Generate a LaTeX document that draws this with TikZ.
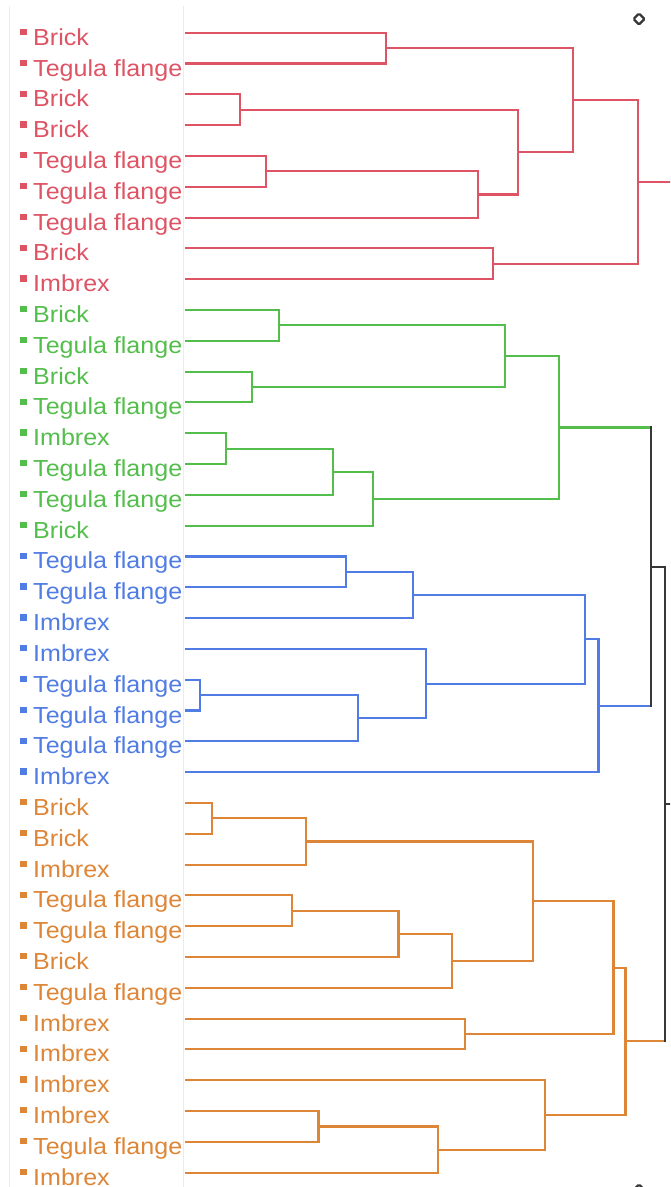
\documentclass[tikz,border=0pt]{standalone}
\usepackage{fontspec}
\usepackage{graphicx}
\setmainfont{Liberation Sans}
\usetikzlibrary{calc}
\definecolor{cred}{RGB}{222,84,100}
\definecolor{cgreen}{RGB}{84,190,76}
\definecolor{cblue}{RGB}{80,124,228}
\definecolor{corange}{RGB}{222,134,56}
\definecolor{cblack}{RGB}{55,55,55}
\definecolor{cpanel}{RGB}{236,236,236}
\newcommand\dmerge[5]{%
  \coordinate (tmpmid) at ($(#3)!0.5!(#4)$);
  \coordinate (#1) at (#2,0 |- tmpmid);
  \draw[#5] (#3) -| (#1) |- (#4);
}
\tikzset{
  link/.style={line width=2.1pt, line join=miter},
  redl/.style={link, draw=cred},
  greenl/.style={link, draw=cgreen},
  bluel/.style={link, draw=cblue},
  orangel/.style={link, draw=corange},
  blackl/.style={link, draw=cblack},
  leaflabel/.style={anchor=base west, inner sep=0pt, font=\fontsize{23.2}{28}\selectfont},
  marker/.style={draw=cblack, line width=2.2pt, rounded corners=1.2pt}
}
\begin{document}
\begin{tikzpicture}[x=1pt, y=-1pt]
\useasboundingbox (0,0) rectangle (670,1187);
\clip (0,0) rectangle (670,1187);
\fill[white] (0,0) rectangle (670,1187);
% label panel borders
\draw[cpanel, line width=1pt] (9.5,6) -- (9.5,1187);
\draw[cpanel, line width=1pt] (183.5,6) -- (183.5,1187);
% leaves
\foreach \lbl/\col [count=\i from 0] in {
  Brick/cred, Tegula flange/cred, Brick/cred, Brick/cred, Tegula flange/cred,
  Tegula flange/cred, Tegula flange/cred, Brick/cred, Imbrex/cred,
  Brick/cgreen, Tegula flange/cgreen, Brick/cgreen, Tegula flange/cgreen,
  Imbrex/cgreen, Tegula flange/cgreen, Tegula flange/cgreen, Brick/cgreen,
  Tegula flange/cblue, Tegula flange/cblue, Imbrex/cblue, Imbrex/cblue,
  Tegula flange/cblue, Tegula flange/cblue, Tegula flange/cblue, Imbrex/cblue,
  Brick/corange, Brick/corange, Imbrex/corange, Tegula flange/corange,
  Tegula flange/corange, Brick/corange, Tegula flange/corange, Imbrex/corange,
  Imbrex/corange, Imbrex/corange, Imbrex/corange, Tegula flange/corange,
  Imbrex/corange}{
  \coordinate (L\i) at (185, {32.7+30.81*\i});
  \fill[\col] (20,{32.7+30.81*\i-3.8}) rectangle ++(6.5,6.2);
  \node[leaflabel, text=\col] (T\i) at (33, {32.7+30.81*\i+12.5}) {\scalebox{1.08}[1]{\lbl}};
}
% red cluster
\dmerge{r1}{386}{L0}{L1}{redl}
\dmerge{r2}{240}{L2}{L3}{redl}
\dmerge{r3}{266}{L4}{L5}{redl}
\dmerge{r4}{478.3}{r3}{L6}{redl}
\dmerge{r5}{518.3}{r2}{r4}{redl}
\dmerge{r6}{572.7}{r1}{r5}{redl}
\dmerge{r7}{492.7}{L7}{L8}{redl}
\dmerge{r8}{638.3}{r6}{r7}{redl}
\coordinate (rout) at (672,0 |- r8);
\draw[redl] (r8) -- (rout);
% green cluster
\dmerge{g1}{278.8}{L9}{L10}{greenl}
\dmerge{g2}{252.2}{L11}{L12}{greenl}
\dmerge{g3}{505.3}{g1}{g2}{greenl}
\dmerge{g4}{225.7}{L13}{L14}{greenl}
\dmerge{g5}{332.6}{g4}{L15}{greenl}
\dmerge{g6}{372.8}{g5}{L16}{greenl}
\dmerge{g7}{558.8}{g3}{g6}{greenl}
% blue cluster
\dmerge{b1}{346.3}{L17}{L18}{bluel}
\dmerge{b2}{412.6}{b1}{L19}{bluel}
\dmerge{b3}{199.7}{L21}{L22}{bluel}
\dmerge{b4}{358.3}{b3}{L23}{bluel}
\dmerge{b5}{426.3}{L20}{b4}{bluel}
\dmerge{b6}{584.9}{b2}{b5}{bluel}
\dmerge{b7}{598.5}{b6}{L24}{bluel}
% orange cluster
\dmerge{o1}{211.6}{L25}{L26}{orangel}
\dmerge{o2}{306.1}{o1}{L27}{orangel}
\dmerge{o3}{292.4}{L28}{L29}{orangel}
\dmerge{o4}{398.5}{o3}{L30}{orangel}
\dmerge{o5}{452.3}{o4}{L31}{orangel}
\dmerge{o6}{532.7}{o2}{o5}{orangel}
\dmerge{o7}{464.7}{L32}{L33}{orangel}
\dmerge{o8}{613.5}{o6}{o7}{orangel}
\dmerge{o9}{318.5}{L35}{L36}{orangel}
\dmerge{o10}{438.2}{o9}{L37}{orangel}
\dmerge{o11}{545.1}{L34}{o10}{orangel}
\dmerge{o12}{625.5}{o8}{o11}{orangel}
% black upper links
\coordinate (tmpmid) at ($(g7)!0.5!(b7)$);
\coordinate (k1) at (651,0 |- tmpmid);
\coordinate (tmpmid) at ($(k1)!0.5!(o12)$);
\coordinate (k2) at (664.7,0 |- tmpmid);
\draw[greenl] (g7) -- (g7 -| k1);
\draw[bluel] (b7) -- (b7 -| k1);
\draw[orangel] (o12) -- (o12 -| k2);
\draw[blackl, line cap=rect] (g7 -| k1) -- (b7 -| k1);
\draw[blackl, line cap=rect] (k1) -| (k2) |- (o12 -| k2);
\coordinate (kout) at (672,0 |- k2);
\draw[blackl] (k2) -- (kout);
% markers
\node[inner sep=0pt, minimum size=0pt] (mtop) at (639,19) {};
\node[inner sep=0pt, minimum size=0pt] (mbot) at (639,1190) {};
\draw[marker] ($(mtop)+(0,-5.5)$) -- ($(mtop)+(5.5,0)$) -- ($(mtop)+(0,5.5)$) -- ($(mtop)+(-5.5,0)$) -- cycle;
\draw[marker] ($(mbot)+(0,-5.5)$) -- ($(mbot)+(5.5,0)$) -- ($(mbot)+(0,5.5)$) -- ($(mbot)+(-5.5,0)$) -- cycle;
\end{tikzpicture}
\end{document}
